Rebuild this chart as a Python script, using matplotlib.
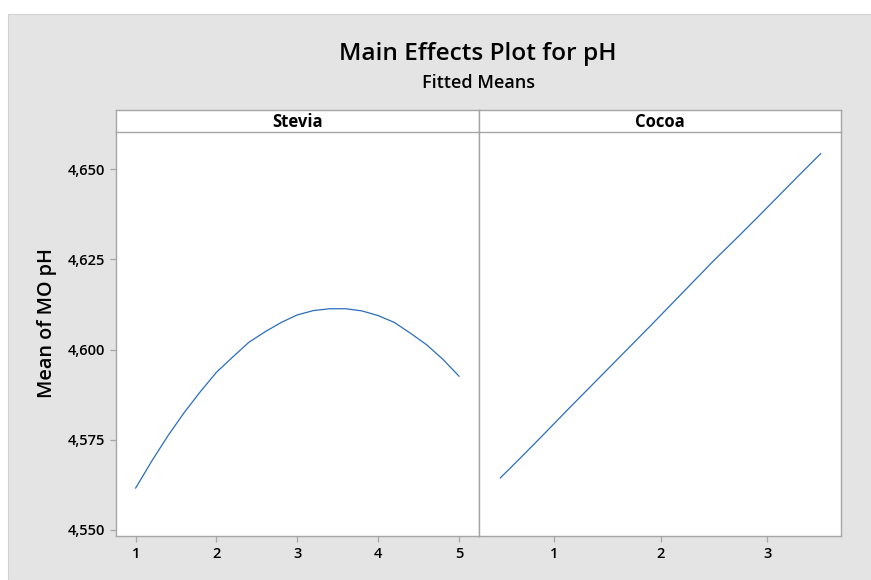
import matplotlib
matplotlib.use("Agg")
import matplotlib.pyplot as plt
from matplotlib.patches import Rectangle

# fitted means per factor level
stevia_x = [1.0, 1.2, 1.4, 1.6, 1.8, 2.0, 2.2, 2.4, 2.6, 2.8, 3.0,
            3.2, 3.4, 3.6, 3.8, 4.0, 4.2, 4.4, 4.6, 4.8, 5.0]
stevia_y = [4.5616, 4.5691, 4.5761, 4.5825, 4.5883, 4.5937, 4.5979,
            4.6020, 4.6049, 4.6075, 4.6096, 4.6108, 4.6113, 4.6113,
            4.6107, 4.6094, 4.6075, 4.6045, 4.6013, 4.5973, 4.5926]

cocoa_x = [0.5, 0.7, 0.9, 1.1, 1.3, 1.5, 1.7, 1.9, 2.1, 2.3, 2.5,
           2.7, 2.9, 3.1, 3.3, 3.5]
cocoa_y = [4.5644, 4.5703, 4.5763, 4.5824, 4.5884, 4.5944, 4.6004,
           4.6064, 4.6125, 4.6186, 4.6247, 4.6305, 4.6364, 4.6424,
           4.6484, 4.6543]

panel_names = ["Stevia", "Cocoa"]
stevia_ticks = [1, 2, 3, 4, 5]
cocoa_ticks = [1, 2, 3]
y_ticks = [4.550, 4.575, 4.600, 4.625, 4.650]

FONT = "Open Sans"
GRID = "#a6a6a6"
LINE = "#2a6ebd"
BG = "#e4e4e4"

W, H = 871, 580
fig = plt.figure(figsize=(W / 100, H / 100), dpi=100)
fig.patch.set_facecolor("white")

# grey backdrop inset from the top/left edges
fig.patches.append(Rectangle((8 / W, 0), 1, 1 - 14 / H, transform=fig.transFigure,
                             facecolor=BG, edgecolor="#d2d2d2", linewidth=0.8,
                             zorder=-10))


def px_rect(x0, y0, x1, y1):
    return [x0 / W, 1 - y1 / H, (x1 - x0) / W, (y1 - y0) / H]


left, mid, right = 116, 479, 841
top, bottom = 132, 536
strip_top = 110

ax1 = fig.add_axes(px_rect(left, top, mid, bottom))
ax2 = fig.add_axes(px_rect(mid, top, right, bottom), sharey=ax1)

ax1.plot(stevia_x, stevia_y, color=LINE, linewidth=0.9)
ax2.plot(cocoa_x, cocoa_y, color=LINE, linewidth=0.9)

ax1.set_xlim(0.757, 5.247)
ax2.set_xlim(0.30, 3.69)
ax1.set_ylim(4.5483, 4.6603)
ax1.set_xticks(stevia_ticks)
ax2.set_xticks(cocoa_ticks)
ax1.set_yticks(y_ticks)
ax1.set_yticklabels([f"{v:.3f}".replace(".", ",") for v in y_ticks])

for ax in (ax1, ax2):
    ax.set_facecolor("white")
    for s in ax.spines.values():
        s.set_color(GRID)
        s.set_linewidth(1.0)
    ax.spines["top"].set_visible(False)
    ax.tick_params(direction="out", length=4, width=0.9, color=GRID,
                   labelsize=10.5, pad=4)
    for lab in ax.get_xticklabels() + ax.get_yticklabels():
        lab.set_fontfamily(FONT)
        lab.set_fontweight("semibold")
ax2.tick_params(axis="y", left=False, labelleft=False)

ax1.set_ylabel("Mean of MO pH", fontsize=14.3, fontfamily=FONT,
               fontweight="semibold")
ax1.yaxis.set_label_coords(-0.162, 0.526)

# header strips over each panel
for (x0, x1), name in zip([(left, mid), (mid, right)], panel_names):
    sax = fig.add_axes(px_rect(x0, strip_top, x1, top))
    sax.set_xticks([])
    sax.set_yticks([])
    sax.set_facecolor("white")
    for s in sax.spines.values():
        s.set_color(GRID)
        s.set_linewidth(1.0)
    sax.text(0.5, 0.45, name, ha="center", va="center", fontsize=12,
             fontweight="bold", fontfamily=FONT, transform=sax.transAxes)

fig.text(478 / W, 1 - 54 / H, "Main Effects Plot for pH", ha="center",
         va="center", fontsize=17.6, fontfamily=FONT, fontweight="semibold")
fig.text(478 / W, 1 - 83 / H, "Fitted Means", ha="center", va="center",
         fontsize=13, fontfamily=FONT, fontweight="semibold")

fig.savefig("out.png", dpi=100)
